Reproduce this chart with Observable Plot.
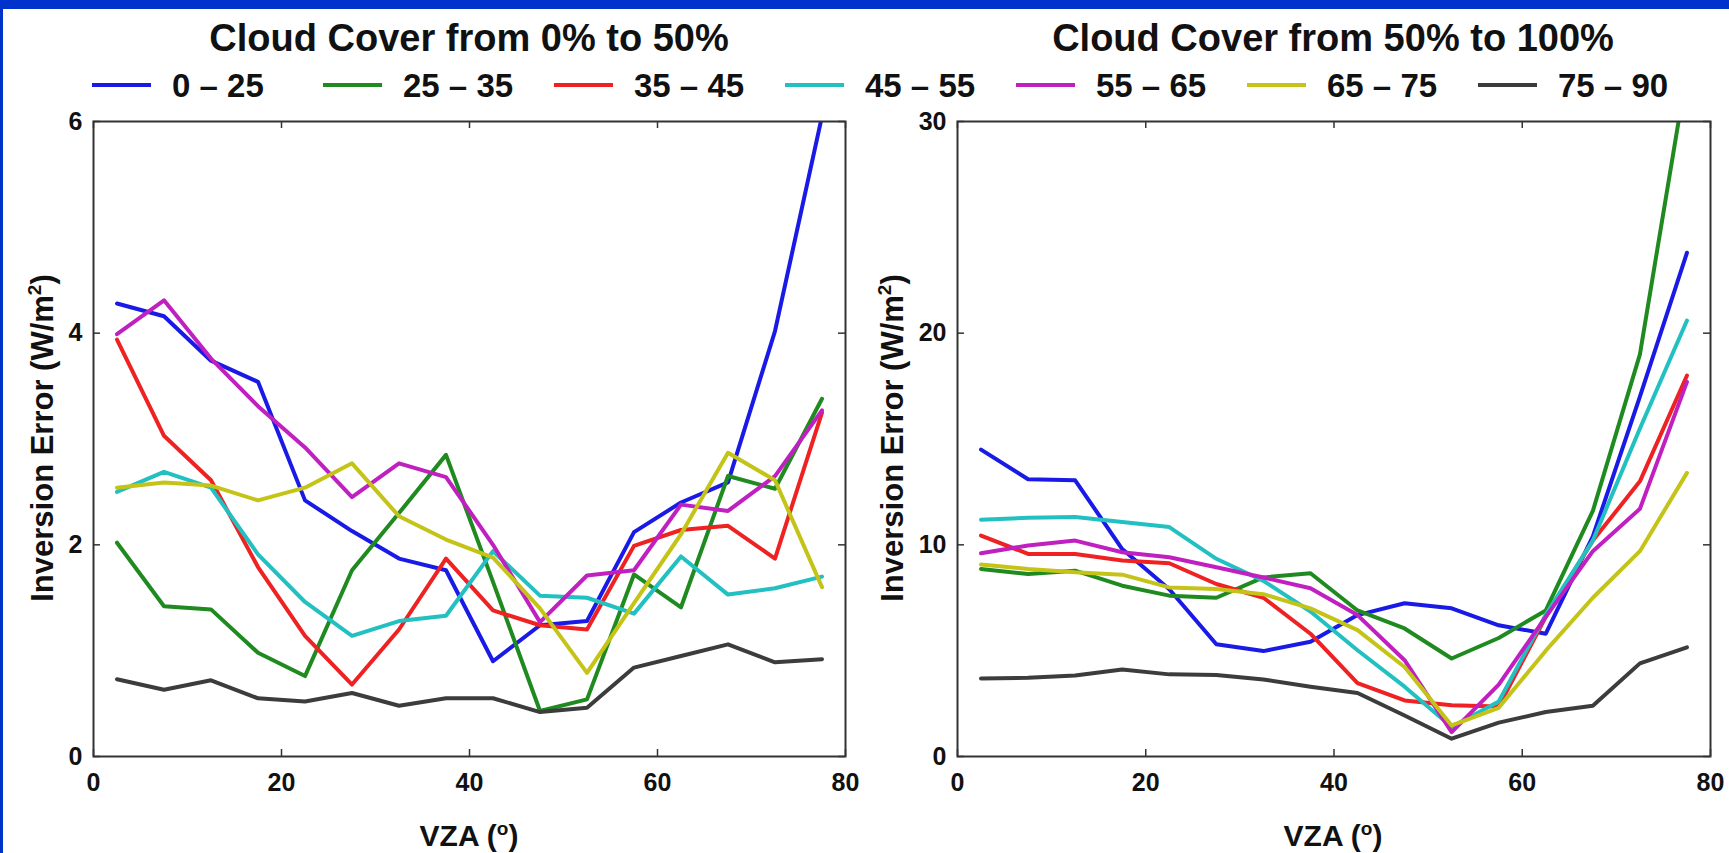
<!DOCTYPE html>
<html>
<head>
<meta charset="utf-8">
<script src="https://cdn.jsdelivr.net/npm/d3@7"></script>
<script src="https://cdn.jsdelivr.net/npm/@observablehq/plot@0.6"></script>
<style>
  html, body { margin: 0; padding: 0; background: #ffffff; }
  #page { position: relative; width: 1729px; height: 853px; overflow: hidden; background: #ffffff; }
  #topbar { position: absolute; left: 0; top: 0; width: 1729px; height: 9px; background: #0033cc; }
  #leftbar { position: absolute; left: 0; top: 0; width: 3px; height: 853px; background: #0033cc; }
  .panel { position: absolute; top: 100px; }
  #overlay { position: absolute; left: 0; top: 0; pointer-events: none; }
</style>
</head>
<body>
<div id="page">
  <div id="topbar"></div>
  <div id="leftbar"></div>
</div>
<script>
// ---- data ----
const vza = [2.5, 7.5, 12.5, 17.5, 22.5, 27.5, 32.5, 37.5, 42.5, 47.5, 52.5, 57.5, 62.5, 67.5, 72.5, 77.5];
const categories = ["0 – 25", "25 – 35", "35 – 45", "45 – 55", "55 – 65", "65 – 75", "75 – 90"];
const seriesColors = ["#1a1ae6", "#1f8a1f", "#ee2222", "#22c0c0", "#c020c0", "#c4c418", "#3c3c3c"];
const titles = ["Cloud Cover from 0% to 50%", "Cloud Cover from 50% to 100%"];
const xTicks = [0, 20, 40, 60, 80];
const yTicksLow = [0, 2, 4, 6];
const yTicksHigh = [0, 10, 20, 30];

// Cloud cover 0% - 50%
const low_0_25  = [4.28, 4.16, 3.74, 3.54, 2.42, 2.13, 1.87, 1.76, 0.90, 1.24, 1.28, 2.12, 2.40, 2.59, 4.02, 6.05];
const low_25_35 = [2.02, 1.42, 1.39, 0.98, 0.76, 1.76, 2.30, 2.85, 1.65, 0.43, 0.54, 1.72, 1.41, 2.65, 2.53, 3.38];
const low_35_45 = [3.94, 3.03, 2.61, 1.79, 1.14, 0.68, 1.20, 1.87, 1.38, 1.24, 1.20, 1.99, 2.14, 2.18, 1.87, 3.25];
const low_45_55 = [2.50, 2.69, 2.54, 1.91, 1.46, 1.14, 1.28, 1.33, 1.94, 1.52, 1.50, 1.35, 1.89, 1.53, 1.59, 1.70];
const low_55_65 = [3.99, 4.31, 3.76, 3.31, 2.92, 2.45, 2.77, 2.64, 2.00, 1.27, 1.71, 1.76, 2.38, 2.32, 2.65, 3.27];
const low_65_75 = [2.54, 2.59, 2.56, 2.42, 2.54, 2.77, 2.27, 2.05, 1.88, 1.40, 0.79, 1.45, 2.10, 2.87, 2.61, 1.60];
const low_75_90 = [0.73, 0.63, 0.72, 0.55, 0.52, 0.60, 0.48, 0.55, 0.55, 0.42, 0.46, 0.84, 0.95, 1.06, 0.89, 0.92];

// Cloud cover 50% - 100%
const high_0_25  = [14.5, 13.1, 13.05, 9.8, 7.9, 5.3, 4.98, 5.42, 6.68, 7.24, 7.0, 6.2, 5.8, 10.4, 17.0, 23.8];
const high_25_35 = [8.86, 8.62, 8.78, 8.07, 7.6, 7.5, 8.46, 8.66, 6.9, 6.05, 4.63, 5.6, 6.9, 11.6, 19.0, 32.4];
const high_35_45 = [10.44, 9.57, 9.57, 9.26, 9.13, 8.15, 7.5, 5.8, 3.47, 2.65, 2.42, 2.36, 6.6, 10.2, 13.0, 18.0];
const high_45_55 = [11.19, 11.28, 11.31, 11.08, 10.84, 9.34, 8.3, 6.85, 5.02, 3.3, 1.39, 2.6, 6.7, 10.2, 15.5, 20.6];
const high_55_65 = [9.6, 9.97, 10.2, 9.65, 9.41, 8.94, 8.46, 7.95, 6.68, 4.55, 1.15, 3.4, 6.6, 9.7, 11.7, 17.7];
const high_65_75 = [9.07, 8.86, 8.7, 8.59, 7.99, 7.91, 7.67, 7.0, 5.97, 4.23, 1.47, 2.3, 5.0, 7.5, 9.7, 13.4];
const high_75_90 = [3.69, 3.72, 3.83, 4.11, 3.88, 3.85, 3.64, 3.3, 3.0, 1.94, 0.84, 1.6, 2.1, 2.4, 4.4, 5.16];

const lowSeries = [low_0_25, low_25_35, low_35_45, low_45_55, low_55_65, low_65_75, low_75_90];
const highSeries = [high_0_25, high_25_35, high_35_45, high_45_55, high_55_65, high_65_75, high_75_90];

// ---- drawing ----
const page = document.getElementById("page");
const FONT = "'Liberation Sans', Arial, Helvetica, sans-serif";
const PANEL_H = 753, MT = 21, MB = 97;
const innerH = PANEL_H - MT - MB;

function tidy(series) {
  const rows = [];
  categories.forEach((c, i) => series[i].forEach((v, j) => rows.push({vza: vza[j], err: v, cat: c})));
  return rows;
}

function panel(series, yDomain, yTicks, left, width, marginLeft, marginRight) {
  const innerW = width - marginLeft - marginRight;
  const tickLen = 7;
  const frameColor = "#333333";
  const svg = Plot.plot({
    width, height: PANEL_H,
    marginLeft, marginRight, marginTop: MT, marginBottom: MB,
    x: {domain: [0, 80]},
    y: {domain: yDomain},
    color: {domain: categories, range: seriesColors},
    style: {fontFamily: FONT, fontSize: "25px", fontWeight: "bold", color: "#111", background: "transparent", overflow: "visible"},
    marks: [
      Plot.line(tidy(series), {x: "vza", y: "err", z: "cat", stroke: "cat", strokeWidth: 4, clip: true, strokeLinejoin: "round"}),
      Plot.frame({stroke: frameColor, strokeWidth: 2}),
      Plot.ruleX(xTicks, {x: d => d, insetTop: innerH - tickLen, stroke: frameColor, strokeWidth: 1.5}),
      Plot.ruleX(xTicks, {x: d => d, insetBottom: innerH - tickLen, stroke: frameColor, strokeWidth: 1.5}),
      Plot.ruleY(yTicks, {y: d => d, insetRight: innerW - tickLen, stroke: frameColor, strokeWidth: 1.5}),
      Plot.ruleY(yTicks, {y: d => d, insetLeft: innerW - tickLen, stroke: frameColor, strokeWidth: 1.5}),
      Plot.axisX(xTicks, {tickSize: 0, tickPadding: 17, label: null, fill: "#111", tickFormat: d => String(d)}),
      Plot.axisY(yTicks, {tickSize: 0, tickPadding: 11, label: null, fill: "#111", tickFormat: d => String(d)})
    ]
  });
  svg.classList.add("panel");
  svg.style.left = left + "px";
  svg.style.top = "100px";
  svg.style.position = "absolute";
  page.appendChild(svg);
}

panel(lowSeries, [0, 6], yTicksLow, 0, 880, 93, 35);
panel(highSeries, [0, 30], yTicksHigh, 880, 849, 77, 19);

// overlay texts: titles, legend, axis labels
const ov = d3.select(page).append("svg")
  .attr("id", "overlay").attr("width", 1729).attr("height", 853)
  .style("font-family", FONT).style("font-weight", "bold").style("fill", "#111");

const titleX = [469, 1333];
titles.forEach((t, i) => {
  ov.append("text").attr("x", titleX[i]).attr("y", 51).attr("text-anchor", "middle")
    .style("font-size", "38px").text(t);
});

categories.forEach((c, i) => {
  const x0 = 92 + i * 231;
  ov.append("line").attr("x1", x0).attr("x2", x0 + 59).attr("y1", 85).attr("y2", 85)
    .attr("stroke", seriesColors[i]).attr("stroke-width", 4);
  ov.append("text").attr("x", x0 + 80).attr("y", 97).style("font-size", "33px").text(c);
});

// x labels
[469, 1333].forEach(cx => {
  const t = ov.append("text").attr("x", cx).attr("y", 846).attr("text-anchor", "middle").style("font-size", "30px");
  t.append("tspan").text("VZA (");
  t.append("tspan").attr("dy", -11).style("font-size", "19px").text("o");
  t.append("tspan").attr("dy", 11).text(")");
});

// y labels
[[53, 438], [903, 438]].forEach(([bx, cy]) => {
  const t = ov.append("text").attr("transform", `translate(${bx},${cy}) rotate(-90)`)
    .attr("text-anchor", "middle").style("font-size", "31px");
  t.append("tspan").text("Inversion Error (W/m");
  t.append("tspan").attr("dy", -12).style("font-size", "19px").text("2");
  t.append("tspan").attr("dy", 12).text(")");
});
</script>
</body>
</html>
